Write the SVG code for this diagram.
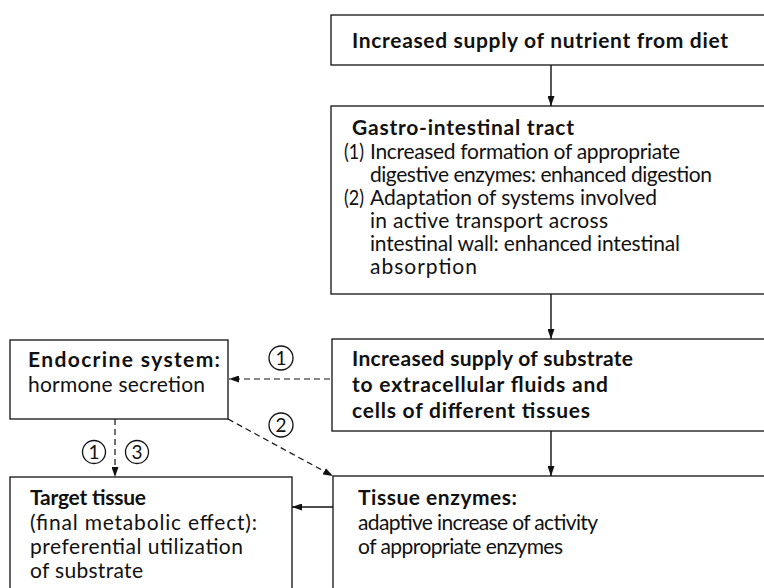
<svg xmlns="http://www.w3.org/2000/svg" width="764" height="588" viewBox="0 0 764 588">
<style>
.box{fill:none;stroke:#111;stroke-width:1.3}
.t{font-family:Lato,"Open Sans","Liberation Sans",sans-serif;font-size:21px;fill:#111}
.b{font-weight:bold}
.c{fill:none;stroke:#111;stroke-width:1.3}
.n{font-family:Lato,"Liberation Sans",sans-serif;font-size:19px;fill:#111;text-anchor:middle}
.solid{stroke:#111;stroke-width:1.4;fill:none}
.dash{stroke:#111;stroke-width:1.2;fill:none;stroke-dasharray:6 4}
</style>
<defs>
<marker id="ah" viewBox="0 0 10 7" refX="10" refY="3.5" markerWidth="10" markerHeight="7" markerUnits="userSpaceOnUse" orient="auto">
<path d="M0,0 L10,3.5 L0,7 z" fill="#111"/>
</marker>
</defs>
<rect width="764" height="588" fill="#fff"/>

<g id="diet">
<rect class="box" x="331" y="15" width="450" height="50"/>
<text class="t b" x="352" y="48" textLength="376">Increased supply of nutrient from diet</text>
</g>

<g id="gi">
<rect class="box" x="331" y="106" width="450" height="188"/>
<text class="t b" x="352" y="135" textLength="222">Gastro-intestinal tract</text>
<text class="t" x="344" y="159" textLength="20" lengthAdjust="spacingAndGlyphs">(1)</text>
<text class="t" x="370" y="159" textLength="310">Increased formation of appropriate</text>
<text class="t" x="370" y="182" textLength="342">digestive enzymes: enhanced digestion</text>
<text class="t" x="344" y="205" textLength="20" lengthAdjust="spacingAndGlyphs">(2)</text>
<text class="t" x="370" y="205" textLength="287">Adaptation of systems involved</text>
<text class="t" x="370" y="228" textLength="238">in active transport across</text>
<text class="t" x="370" y="251" textLength="310">intestinal wall: enhanced intestinal</text>
<text class="t" x="370" y="274" textLength="107">absorption</text>
</g>

<g id="substrate">
<rect class="box" x="332" y="339" width="450" height="92"/>
<text class="t b" x="352" y="366" textLength="281">Increased supply of substrate</text>
<text class="t b" x="352" y="392" textLength="256">to extracellular fluids and</text>
<text class="t b" x="352" y="418" textLength="238">cells of different tissues</text>
</g>

<g id="endocrine">
<rect class="box" x="10" y="340" width="218" height="79"/>
<text class="t b" x="28" y="367" textLength="192">Endocrine system:</text>
<text class="t" x="28" y="392" textLength="177">hormone secretion</text>
</g>

<g id="target">
<rect class="box" x="10" y="477" width="282" height="130"/>
<text class="t b" x="30" y="505" textLength="116">Target tissue</text>
<text class="t" x="30" y="530" textLength="227">(final metabolic effect):</text>
<text class="t" x="30" y="554" textLength="213">preferential utilization</text>
<text class="t" x="30" y="578" textLength="113">of substrate</text>
</g>

<g id="enzymes">
<rect class="box" x="333" y="476" width="450" height="130"/>
<text class="t b" x="358" y="505" textLength="159">Tissue enzymes:</text>
<text class="t" x="358" y="530" textLength="240">adaptive increase of activity</text>
<text class="t" x="358" y="554" textLength="205">of appropriate enzymes</text>
</g>

<g id="connectors">
<line class="solid" x1="551" y1="65" x2="551" y2="106" marker-end="url(#ah)"/>
<line class="solid" x1="551" y1="294" x2="551" y2="339" marker-end="url(#ah)"/>
<line class="solid" x1="551" y1="431" x2="551" y2="476" marker-end="url(#ah)"/>
<line class="solid" x1="333" y1="507" x2="292" y2="507" marker-end="url(#ah)"/>
<line class="dash" x1="330" y1="379" x2="229" y2="379" marker-end="url(#ah)"/>
<line class="dash" x1="228" y1="419" x2="333" y2="476" marker-end="url(#ah)"/>
<line class="dash" x1="115" y1="419" x2="115" y2="477" marker-end="url(#ah)"/>
<g id="labels">
<circle class="c" cx="281" cy="358" r="12"/>
<text class="n" x="281" y="365">1</text>
<circle class="c" cx="281" cy="425" r="12"/>
<text class="n" x="281" y="432">2</text>
<circle class="c" cx="94" cy="452" r="11.5"/>
<text class="n" x="94" y="459">1</text>
<circle class="c" cx="137" cy="452" r="11.5"/>
<text class="n" x="137" y="459">3</text>
</g>
</g>
</svg>
